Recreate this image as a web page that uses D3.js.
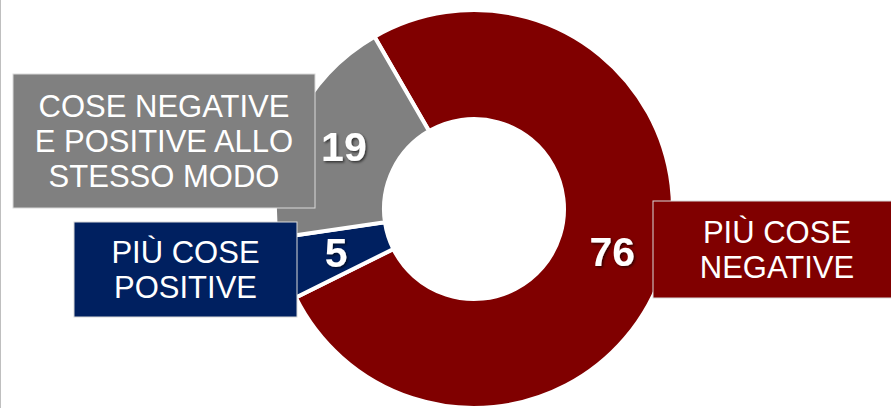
<!DOCTYPE html>
<html lang="it">
<head>
    <meta charset="UTF-8">
    <title>Donut</title>
    <script src="https://d3js.org/d3.v7.min.js"></script>
    <style>
        html, body { margin: 0; padding: 0; background: #ffffff; }
        svg { display: block; font-family: "Liberation Sans", Arial, sans-serif; }
    </style>
</head>
<body>
<div id="chart"></div>
<script>
    // data, in drawing order (clockwise from the top-left split)
    var categories = ['PIÙ COSE NEGATIVE', 'PIÙ COSE POSITIVE', 'COSE NEGATIVE E POSITIVE ALLO STESSO MODO'];
    var values = [76, 5, 19];
    var labelLines = [
        ['PIÙ COSE', 'NEGATIVE'],
        ['PIÙ COSE', 'POSITIVE'],
        ['COSE NEGATIVE', 'E POSITIVE ALLO', 'STESSO MODO']
    ];
    var colors = ['#800000', '#002060', '#808080'];

    var w = 891, h = 408;
    var cx = 474, cy = 209;
    var rOuter = 199, rInner = 90;

    // where the category boxes go
    var boxes = [
        {x: 653, y: 201, w: 250, h: 97},
        {x: 74, y: 222, w: 223, h: 95},
        {x: 13, y: 74, w: 302, h: 134}
    ];

    var svg = d3.select('#chart').append('svg')
        .attr('width', w)
        .attr('height', h);

    var defs = svg.append('defs');
    var f = defs.append('filter').attr('id', 'shadow')
        .attr('x', '-20%').attr('y', '-20%').attr('width', '140%').attr('height', '140%');
    f.append('feDropShadow')
        .attr('dx', 1.5).attr('dy', 1.5)
        .attr('stdDeviation', 1)
        .attr('flood-color', '#000')
        .attr('flood-opacity', 0.6);

    // thin frame line on the left
    svg.append('line')
        .attr('x1', 0.5).attr('x2', 0.5)
        .attr('y1', 0).attr('y2', h)
        .style('stroke', '#bfbfbf')
        .style('stroke-width', 1);

    var pie = d3.pie()
        .sort(null)
        .startAngle(-Math.PI / 6)
        .endAngle(2 * Math.PI - Math.PI / 6)
        .value(function(d){ return d; });

    var arc = d3.arc()
        .innerRadius(rInner)
        .outerRadius(rOuter);

    var arcs = pie(values);

    var g = svg.append('g').attr('transform', 'translate(' + cx + ',' + cy + ')');

    g.selectAll('path')
        .data(arcs)
        .enter()
        .append('path')
        .attr('d', arc)
        .style('fill', function(d, i){ return colors[i]; })
        .style('stroke', '#ffffff')
        .style('stroke-width', 4)
        .style('stroke-linejoin', 'miter');

    // category boxes
    var box = svg.selectAll('g.box')
        .data(boxes)
        .enter()
        .append('g')
        .attr('class', 'box');

    box.append('rect')
        .attr('x', function(d){ return d.x; })
        .attr('y', function(d){ return d.y; })
        .attr('width', function(d){ return d.w; })
        .attr('height', function(d){ return d.h; })
        .style('fill', function(d, i){ return colors[i]; })
        .style('stroke', '#d9d9d9')
        .style('stroke-width', 1);

    var lineH = 35;
    box.each(function(d, i){
        var lines = labelLines[i];
        var midY = d.y + d.h / 2;
        var firstY = midY - (lines.length - 1) * lineH / 2;
        var midX = (i === 0) ? 777 : d.x + d.w / 2;
        d3.select(this).selectAll('text')
            .data(lines)
            .enter()
            .append('text')
            .attr('x', midX)
            .attr('y', function(t, j){ return firstY + j * lineH; })
            .attr('dy', '0.36em')
            .attr('text-anchor', 'middle')
            .style('fill', '#ffffff')
            .style('font-size', '31px')
            .text(function(t){ return t; });
    });

    // values at the centroid of each slice
    g.selectAll('text.val')
        .data(arcs)
        .enter()
        .append('text')
        .attr('class', 'val')
        .attr('transform', function(d){ return 'translate(' + arc.centroid(d) + ')'; })
        .attr('dy', '0.36em')
        .attr('text-anchor', 'middle')
        .attr('filter', 'url(#shadow)')
        .style('fill', '#ffffff')
        .style('font-size', '41px')
        .style('font-weight', 'bold')
        .text(function(d){ return d.data; });
</script>
</body>
</html>
